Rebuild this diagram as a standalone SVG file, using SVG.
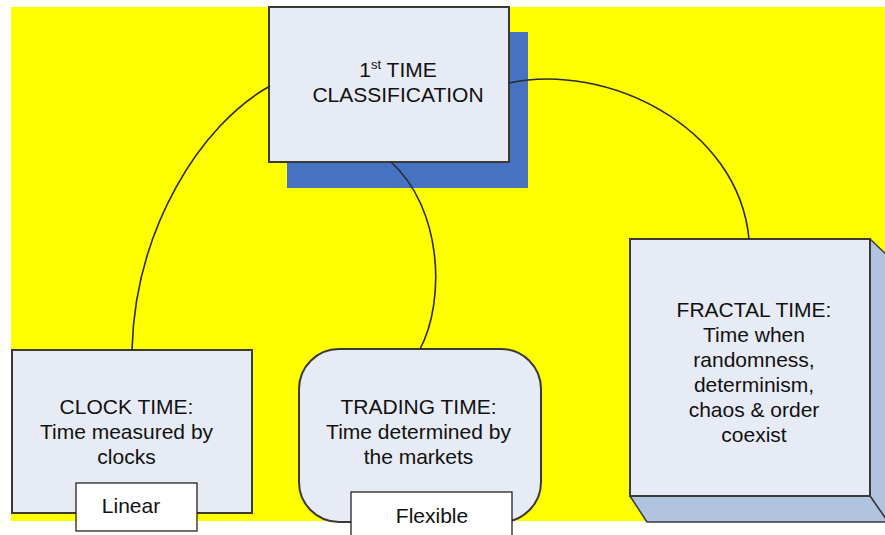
<svg xmlns="http://www.w3.org/2000/svg" width="885" height="535" viewBox="0 0 885 535">
<style>
text{font-family:"Liberation Sans",Arial,sans-serif;font-size:21px;fill:#111;text-anchor:middle}
.box{fill:#e6ebf5;stroke:#3a3a32;stroke-width:2}
.tag{fill:#fff;stroke:#111;stroke-width:1.2}
.side{fill:#b0c3df;stroke:#3a3a40;stroke-width:1.5;stroke-linejoin:round}
.conn{fill:none;stroke:#2a2a2a;stroke-width:1.6}
</style>
<rect x="0" y="0" width="885" height="535" fill="#fff"/>
<rect x="11" y="7" width="874" height="514" fill="#ffff00"/>
<g id="top">
<rect x="287" y="32" width="241" height="156" fill="#4673c1"/>
<rect class="box" x="269" y="7" width="240" height="155"/>
<text x="398" y="77">1<tspan font-size="13" dy="-8">st</tspan><tspan dy="8"> TIME</tspan></text>
<text x="398" y="102">CLASSIFICATION</text>
</g>
<g id="clock">
<rect class="box" x="12" y="350" width="240" height="163"/>
<text x="126.5" y="414">CLOCK TIME:</text>
<text x="126.5" y="439">Time measured by</text>
<text x="126.5" y="464">clocks</text>
<rect class="tag" x="76" y="483" width="121" height="48"/>
<text x="131" y="513">Linear</text>
</g>
<g id="trading">
<rect class="box" x="299" y="349" width="242" height="173" rx="40" ry="40"/>
<text x="418.5" y="414">TRADING TIME:</text>
<text x="418.5" y="439">Time determined by</text>
<text x="418.5" y="464">the markets</text>
<rect class="tag" x="351" y="492" width="161" height="50"/>
<text x="432" y="523">Flexible</text>
</g>
<g id="fractal">
<polygon class="side" points="870,239 888,256 888,522 870,496"/>
<polygon class="side" points="630,496 870,496 888,522 647,522"/>
<rect class="box" x="630" y="239" width="240" height="257"/>
<text x="754" y="317">FRACTAL TIME:</text>
<text x="754" y="342">Time when</text>
<text x="754" y="367">randomness,</text>
<text x="754" y="392">determinism,</text>
<text x="754" y="417">chaos &amp; order</text>
<text x="754" y="442">coexist</text>
</g>
<g id="connectors">
<path class="conn" d="M270,86 C200,125 135,230 132,350"/>
<path class="conn" d="M391,162 C442,208 446,300 420,349"/>
<path class="conn" d="M509,83 C605,62 738,125 749,239"/>
</g>
</svg>
